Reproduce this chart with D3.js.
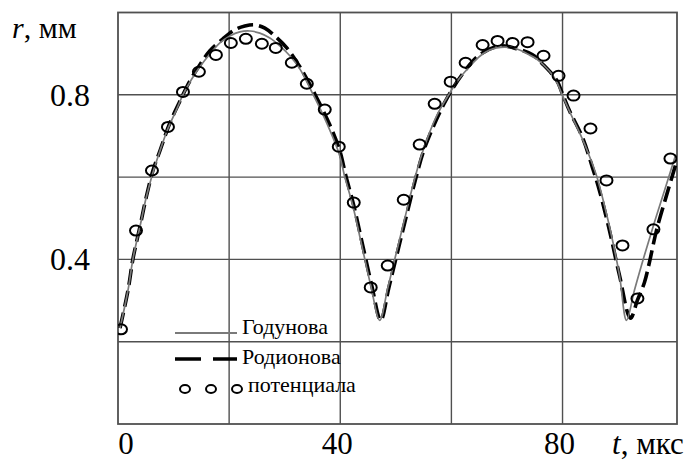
<!DOCTYPE html>
<html><head><meta charset="utf-8">
<script src="https://cdn.jsdelivr.net/npm/d3@7"></script>
<style>body{margin:0;background:#fff}text{font-family:"Liberation Serif","Times New Roman",serif;fill:#000}</style>
</head><body><svg id="c" width="695" height="461"></svg>
<script>
// Data
const godunovT = [0.36,1.8,2.7,3.96,5.03,6.29,7.55,8.99,10.43,11.69,13.3,14.74,16.54,18.34,20.13,21.93,23.73,25.53,27.33,29.12,30.92,32.72,35.06,37.21,39.73,40.81,42.25,43.87,45.48,47.1,48.54,49.98,51.6,53.39,55.19,57.35,59.51,61.12,62.56,64.18,65.62,66.88,68.13,69.57,71.01,72.27,73.71,75.33,76.76,78.2,79.1,80.0,81.8,83.06,84.31,86.11,87.55,88.81,90.25,91.51,92.94,94.74,96.54,98.34,100.31];
const godunovR = [0.233,0.325,0.402,0.48,0.548,0.611,0.664,0.718,0.761,0.8,0.839,0.868,0.899,0.926,0.943,0.953,0.955,0.95,0.938,0.919,0.895,0.863,0.802,0.742,0.659,0.601,0.531,0.434,0.337,0.252,0.33,0.41,0.499,0.596,0.676,0.749,0.8,0.834,0.858,0.882,0.899,0.909,0.914,0.916,0.914,0.909,0.899,0.887,0.87,0.848,0.827,0.798,0.744,0.708,0.669,0.604,0.531,0.458,0.361,0.252,0.325,0.41,0.49,0.567,0.652];
const rodionovT = [0.36,1.8,2.7,3.96,5.03,6.29,7.55,9.35,11.15,12.94,14.74,16.54,18.88,21.03,22.83,24.63,26.43,28.22,30.38,32.72,35.42,38.11,39.91,40.99,42.43,44.04,45.66,47.28,48.72,50.16,51.78,53.57,55.01,56.81,59.15,62.02,65.08,68.67,71.73,74.61,76.4,78.92,80.0,81.26,83.6,85.39,86.65,88.45,90.25,92.22,93.48,94.74,95.64,96.9,98.7,100.31];
const rodionovR = [0.233,0.325,0.402,0.48,0.548,0.616,0.664,0.732,0.785,0.834,0.873,0.907,0.936,0.958,0.967,0.97,0.962,0.943,0.914,0.868,0.802,0.727,0.664,0.604,0.531,0.434,0.337,0.252,0.33,0.41,0.499,0.596,0.664,0.725,0.79,0.851,0.897,0.919,0.912,0.897,0.875,0.836,0.802,0.761,0.696,0.623,0.567,0.47,0.361,0.257,0.301,0.344,0.393,0.47,0.555,0.628];
const potentialT = [0.54,3.24,6.11,8.99,11.69,14.56,17.62,20.31,23.01,25.89,28.4,31.28,33.98,37.21,39.73,42.43,45.48,48.54,51.42,54.29,56.99,59.87,62.56,65.62,68.31,71.01,73.71,76.58,79.28,81.98,85.03,87.91,90.79,93.48,96.36,99.42];
const potentialR = [0.23,0.47,0.616,0.722,0.807,0.856,0.897,0.926,0.936,0.924,0.914,0.878,0.827,0.764,0.674,0.538,0.332,0.385,0.545,0.679,0.778,0.832,0.878,0.921,0.931,0.926,0.928,0.895,0.846,0.798,0.718,0.592,0.434,0.305,0.473,0.645];
const xGrid = [20,40,60,80];
const yGrid = [0.2,0.4,0.6,0.8];
const xTickLabels = [0,40,80];
const yTickLabels = [0.4,0.8];
const legendNames = ["Годунова","Родионова","потенциала"];

const svg = d3.select("#c");
const L=118, T=12.5, R=677, B=424;
const x = d3.scaleLinear().domain([0,100.6]).range([L,R]);
const y = d3.scaleLinear().domain([0,1]).range([B,T]);
const gridColor="#505050";

const g = svg.append("g");
g.selectAll(".vg").data(xGrid).join("line").attr("x1",d=>x(d)).attr("x2",d=>x(d)).attr("y1",T).attr("y2",B).attr("stroke",gridColor).attr("stroke-width",1.4);
g.selectAll(".hg").data(yGrid).join("line").attr("y1",d=>y(d)).attr("y2",d=>y(d)).attr("x1",L).attr("x2",R).attr("stroke",gridColor).attr("stroke-width",1.4);
g.append("rect").attr("x",L).attr("y",T).attr("width",R-L).attr("height",B-T).attr("fill","none").attr("stroke",gridColor).attr("stroke-width",1.8);

svg.append("clipPath").attr("id","clip").append("rect").attr("x",L).attr("y",T).attr("width",R-L).attr("height",B-T);

const line = d3.line().x(d=>x(d[0])).y(d=>y(d[1])).curve(d3.curveCatmullRom.alpha(0.5));
const gd = godunovT.map((t,i)=>[t,godunovR[i]]);
const rd = rodionovT.map((t,i)=>[t,rodionovR[i]]);
const pt = potentialT.map((t,i)=>[t,potentialR[i]]);

const pl = svg.append("g").attr("clip-path","url(#clip)");
pl.append("path").datum(rd).attr("d",line).attr("fill","none").attr("stroke","#000").attr("stroke-width",3.6).attr("stroke-dasharray","16,6");
pl.append("path").datum(gd).attr("d",line).attr("fill","none").attr("stroke","#7a7a7a").attr("stroke-width",1.7);
pl.selectAll("ellipse").data(pt).join("ellipse").attr("cx",d=>x(d[0])).attr("cy",d=>y(d[1])).attr("rx",6).attr("ry",5).attr("fill","none").attr("stroke","#000").attr("stroke-width",2);

// tick labels
svg.selectAll(".xl").data(xTickLabels).join("text").attr("x",d=>x(d)+(d===0?8:-3)).attr("y",454).attr("text-anchor","middle").attr("font-size",31).text(d=>d);
svg.selectAll(".yl").data(yTickLabels).join("text").attr("x",90).attr("y",d=>y(d)+11).attr("text-anchor","end").attr("font-size",32).text(d=>d3.format(".1f")(d));

// axis titles
const rt = svg.append("text").attr("x",12).attr("y",38).attr("font-size",30);
rt.append("tspan").attr("font-style","italic").text("r");
rt.append("tspan").text(", мм");
const tt = svg.append("text").attr("x",612).attr("y",454).attr("font-size",31);
tt.append("tspan").attr("font-style","italic").text("t");
tt.append("tspan").text(", мкс");

// legend
const lg = svg.append("g");
lg.append("line").attr("x1",175).attr("x2",237).attr("y1",333).attr("y2",333).attr("stroke","#7a7a7a").attr("stroke-width",1.8);
lg.append("line").attr("x1",175).attr("x2",237).attr("y1",359).attr("y2",359).attr("stroke","#000").attr("stroke-width",3.6).attr("stroke-dasharray","26,12");
lg.selectAll("ellipse").data([185,211,237]).join("ellipse").attr("cx",d=>d).attr("cy",389).attr("rx",5).attr("ry",4).attr("fill","none").attr("stroke","#000").attr("stroke-width",2);
lg.selectAll("text").data(legendNames).join("text").attr("x",(d,i)=>i===2?248:242).attr("y",(d,i)=>[334,364,392][i]).attr("font-size",22).text(d=>d);
</script></body></html>
